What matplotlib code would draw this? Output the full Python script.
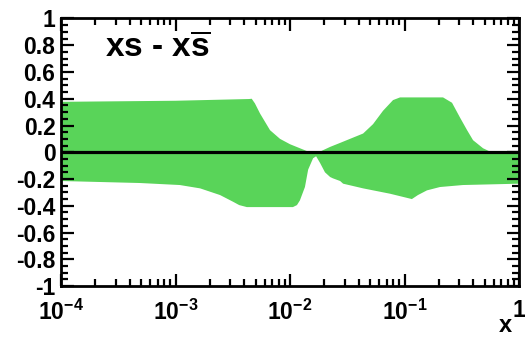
import numpy as np
import matplotlib.pyplot as plt
from matplotlib.ticker import FixedLocator, MultipleLocator, LogLocator, NullFormatter

plt.rcParams['font.family'] = 'Liberation Sans'
plt.rcParams['font.weight'] = 'bold'
plt.rcParams['mathtext.fontset'] = 'custom'
plt.rcParams['mathtext.rm'] = 'Liberation Sans:bold'
plt.rcParams['mathtext.bf'] = 'Liberation Sans:bold'
plt.rcParams['mathtext.it'] = 'Liberation Sans:bold'

# upper edge of the uncertainty band
x_up = [1e-4, 1e-3, 4.4e-3, 4.63e-3, 4.94e-3, 5.47e-3, 6.69e-3, 8.18e-3, 1e-2,
        1.22e-2, 1.44e-2, 1.69e-2, 1.83e-2, 2.24e-2, 2.74e-2, 3.34e-2, 4.35e-2,
        5.31e-2, 6.49e-2, 7.94e-2, 9.14e-2, 0.217, 0.26, 0.305, 0.352, 0.397,
        0.485, 0.558, 1.0]
y_up = [0.377, 0.385, 0.398, 0.40, 0.365, 0.29, 0.165, 0.10, 0.06,
        0.03, 0.005, 0.0, 0.005, 0.04, 0.07, 0.10, 0.14,
        0.21, 0.31, 0.39, 0.41, 0.41, 0.37, 0.26, 0.165, 0.09,
        0.03, 0.005, 0.0]

# lower edge of the uncertainty band
x_lo = [1e-4, 4.9e-4, 1.09e-3, 1.64e-3, 2.45e-3, 3.18e-3, 3.6e-3, 4.2e-3,
        1.06e-2, 1.15e-2, 1.22e-2, 1.35e-2, 1.44e-2, 1.59e-2, 1.69e-2, 1.83e-2,
        2.02e-2, 2.24e-2, 2.37e-2, 2.74e-2, 2.91e-2, 4.35e-2, 7.47e-2, 0.116,
        0.131, 0.157, 0.204, 0.324, 1.0]
y_lo = [-0.215, -0.23, -0.245, -0.27, -0.32, -0.37, -0.395, -0.41,
        -0.41, -0.395, -0.36, -0.26, -0.13, -0.045, -0.03, -0.08,
        -0.15, -0.185, -0.195, -0.215, -0.235, -0.27, -0.31, -0.35,
        -0.32, -0.285, -0.26, -0.245, -0.235]

xtick_pos = [1e-4, 1e-3, 1e-2, 1e-1, 1]
xtick_lab = [r'$10^{-4}$', r'$10^{-3}$', r'$10^{-2}$', r'$10^{-1}$', '1']
ytick_pos = [-1, -0.8, -0.6, -0.4, -0.2, 0, 0.2, 0.4, 0.6, 0.8, 1]
ytick_lab = ['-1', '-0.8', '-0.6', '-0.4', '-0.2', '0', '0.2', '0.4', '0.6', '0.8', '1']

fig = plt.figure(figsize=(5.25, 3.4), dpi=100)
ax = fig.add_axes([0.1162, 0.1588, 0.8724, 0.7868])

# band polygon: upper edge left->right, lower edge right->left
ax.fill(x_up + x_lo[::-1], y_up + y_lo[::-1], color='#59d459', linewidth=0)
ax.axhline(0, color='black', linewidth=2.3)

ax.set_xscale('log')
ax.set_xlim(1e-4, 1)
ax.set_ylim(-1, 1)

ax.xaxis.set_major_locator(FixedLocator(xtick_pos))
ax.set_xticklabels(xtick_lab)
ax.xaxis.set_minor_locator(LogLocator(base=10, subs=np.arange(2, 10)))
ax.xaxis.set_minor_formatter(NullFormatter())
ax.set_yticks(ytick_pos)
ax.set_yticklabels(ytick_lab)
ax.yaxis.set_minor_locator(MultipleLocator(0.05))

ax.tick_params(which='both', direction='in', top=True, right=True, width=1.6)
ax.tick_params(which='major', length=9, labelsize=16.5)
ax.tick_params(which='minor', length=5)
ax.tick_params(axis='x', which='major', pad=9.5)
ax.tick_params(axis='y', which='major', pad=4)
for s in ax.spines.values():
    s.set_linewidth(2)

ax.text(0.096, 0.888, r'xs - x$\overline{\mathrm{s}}$', transform=ax.transAxes,
        fontsize=24, fontweight='bold', va='center')
fig.text(0.963, 0.01, 'x', fontsize=17, fontweight='bold', ha='center', va='bottom')

fig.savefig('out.png', dpi=100)
